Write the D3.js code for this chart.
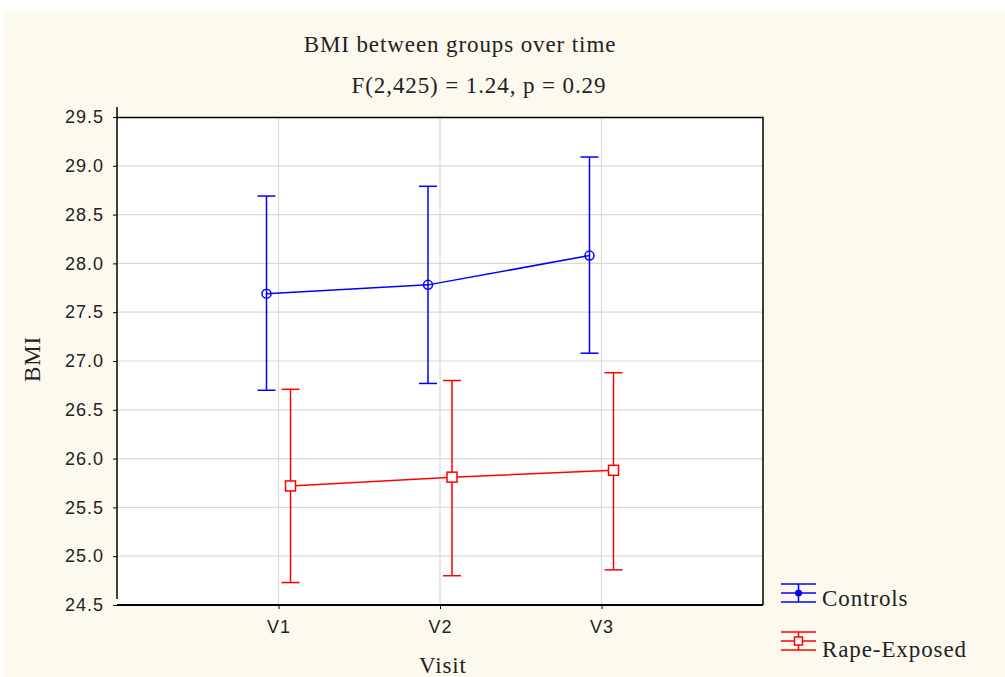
<!DOCTYPE html>
<html>
<head>
<meta charset="utf-8">
<script src="https://cdn.jsdelivr.net/npm/d3@7"></script>
<style>
  body { margin: 0; background: #ffffff; }
  svg { display: block; }
</style>
</head>
<body>
<svg id="mainsvg" width="1005" height="677"></svg>
<script>
const visits = ['V1', 'V2', 'V3'];
const groups = ['Controls', 'Rape-Exposed'];
const controlsMean = [27.69, 27.78, 28.08];
const controlsLow = [26.70, 26.77, 27.08];
const controlsHigh = [28.69, 28.79, 29.09];
const exposedMean = [25.72, 25.81, 25.88];
const exposedLow = [24.73, 24.80, 24.86];
const exposedHigh = [26.71, 26.80, 26.88];
const yTicks = [24.5, 25.0, 25.5, 26.0, 26.5, 27.0, 27.5, 28.0, 28.5, 29.0, 29.5];

const svg = d3.select('#mainsvg');
const width = +svg.attr('width');
const height = +svg.attr('height');
const margin = { top: 117, right: 242, bottom: 72, left: 117 };
const innerWidth = width - margin.left - margin.right;
const innerHeight = height - margin.top - margin.bottom;

const serif = 'Liberation Serif, Times New Roman, serif';
const sans = 'Liberation Sans, Arial, sans-serif';

// cream background
svg.append('rect')
    .attr('x', 4).attr('y', 11)
    .attr('width', width - 4).attr('height', height - 11)
    .attr('fill', '#fdf9ef');

const g = svg.append('g').attr('id', 'maingroup')
    .attr('transform', `translate(${margin.left}, ${margin.top})`);

const xScale = d3.scaleLinear().domain([0, 4]).range([0, innerWidth]);
const yScale = d3.scaleLinear().domain([24.5, 29.5]).range([innerHeight, 0]);

g.append('rect')
    .attr('width', innerWidth).attr('height', innerHeight)
    .attr('fill', '#ffffff');

// grid
g.selectAll('.hgrid').data(yTicks.slice(1, -1)).join('line')
    .attr('class', 'hgrid')
    .attr('x1', 0).attr('x2', innerWidth)
    .attr('y1', d => yScale(d)).attr('y2', d => yScale(d))
    .attr('stroke', '#d9d9d9').attr('stroke-width', 1.2);
g.selectAll('.vgrid').data([1, 2, 3]).join('line')
    .attr('class', 'vgrid')
    .attr('y1', 0).attr('y2', innerHeight)
    .attr('x1', d => xScale(d)).attr('x2', d => xScale(d))
    .attr('stroke', '#d9d9d9').attr('stroke-width', 1.2);

// border top/right
g.append('path')
    .attr('d', `M0,0.5H${innerWidth}V${innerHeight}`)
    .attr('fill', 'none').attr('stroke', '#000').attr('stroke-width', 1.5);

// y axis
const yAxis = d3.axisLeft(yScale).tickValues(yTicks).tickSize(4)
    .tickFormat(d3.format('.1f'));
const yAxisGroup = g.append('g').call(yAxis);
yAxisGroup.select('.domain').remove();
yAxisGroup.selectAll('.tick line').attr('stroke', '#000');
yAxisGroup.selectAll('.tick text')
    .attr('font-family', sans).attr('letter-spacing', '1px')
    .attr('font-size', '18px').attr('fill', '#222').attr('x', -13);
g.append('line')
    .attr('x1', 0).attr('x2', 0).attr('y1', -10).attr('y2', innerHeight - 6)
    .attr('stroke', '#000').attr('stroke-width', 1.5);

// x axis
const xAxis = d3.axisBottom(xScale).tickValues([1, 2, 3]).tickSize(4)
    .tickFormat(d => visits[d - 1]);
const xAxisGroup = g.append('g').call(xAxis)
    .attr('transform', `translate(0, ${innerHeight})`);
xAxisGroup.select('.domain').remove();
xAxisGroup.selectAll('.tick line').attr('stroke', '#000');
xAxisGroup.selectAll('.tick text')
    .attr('font-family', sans).attr('letter-spacing', '1px')
    .attr('font-size', '18px').attr('fill', '#222').attr('y', 28).attr('dy', 0);
g.append('line')
    .attr('x1', 0).attr('x2', innerWidth).attr('y1', innerHeight).attr('y2', innerHeight)
    .attr('stroke', '#000').attr('stroke-width', 1.8);

// series
const series = [
    { name: groups[0], color: '#0000ff', mean: controlsMean, low: controlsLow, high: controlsHigh, dx: -12, marker: 'circle' },
    { name: groups[1], color: '#ff0000', mean: exposedMean, low: exposedLow, high: exposedHigh, dx: 12, marker: 'square' }
];
const capW = 9;
series.forEach(s => {
    const pts = s.mean.map((m, i) => ({ x: xScale(i + 1) + s.dx, m: m, lo: s.low[i], hi: s.high[i] }));
    const line = d3.line().x(d => d.x).y(d => yScale(d.m));
    g.append('path').datum(pts)
        .attr('d', line).attr('fill', 'none')
        .attr('stroke', s.color).attr('stroke-width', 1.5);
    const eb = g.append('g');
    eb.selectAll('.bar').data(pts).join('line')
        .attr('x1', d => d.x).attr('x2', d => d.x)
        .attr('y1', d => yScale(d.lo)).attr('y2', d => yScale(d.hi))
        .attr('stroke', s.color).attr('stroke-width', 1.5);
    ['lo', 'hi'].forEach(k => {
        eb.selectAll('.cap' + k).data(pts).join('line')
            .attr('x1', d => d.x - capW).attr('x2', d => d.x + capW)
            .attr('y1', d => yScale(d[k])).attr('y2', d => yScale(d[k]))
            .attr('stroke', s.color).attr('stroke-width', 1.5);
    });
    if (s.marker === 'circle') {
        g.selectAll(null).data(pts).join('circle')
            .attr('cx', d => d.x).attr('cy', d => yScale(d.m)).attr('r', 4.5)
            .attr('fill', 'none').attr('stroke', s.color).attr('stroke-width', 1.5);
    } else {
        g.selectAll(null).data(pts).join('rect')
            .attr('x', d => d.x - 5).attr('y', d => yScale(d.m) - 5)
            .attr('width', 10).attr('height', 10)
            .attr('fill', '#fff').attr('stroke', s.color).attr('stroke-width', 1.5);
    }
});

// titles
const addText = (x, y, txt) => svg.append('text').attr('x', x).attr('y', y)
    .attr('text-anchor', 'middle')
    .attr('font-family', serif).attr('font-size', '23px').attr('letter-spacing', '0.9px')
    .attr('fill', '#222').text(txt);
addText(460, 52, 'BMI between groups over time');
addText(479, 93, 'F(2,425) = 1.24, p = 0.29');
addText(443, 673, 'Visit');
addText(0, 0, 'BMI').attr('transform', 'translate(40, 359) rotate(-90)');

// legend
const legend = svg.append('g').attr('transform', 'translate(781, 0)');
const legendY = [593, 641];
series.forEach((s, i) => {
    const lg = legend.append('g').attr('transform', `translate(0, ${legendY[i]})`);
    [-9, 0, 9].forEach(dy => {
        lg.append('line').attr('x1', 0).attr('x2', 35).attr('y1', dy).attr('y2', dy)
            .attr('stroke', s.color).attr('stroke-width', 1.5);
    });
    lg.append('line').attr('x1', 17.5).attr('x2', 17.5).attr('y1', -9).attr('y2', 9)
        .attr('stroke', s.color).attr('stroke-width', 1.5);
    if (s.marker === 'circle') {
        lg.append('circle').attr('cx', 17.5).attr('cy', 0).attr('r', 3.5).attr('fill', s.color);
    } else {
        lg.append('rect').attr('x', 13.5).attr('y', -4).attr('width', 8).attr('height', 8)
            .attr('fill', '#fff').attr('stroke', s.color).attr('stroke-width', 1.5);
    }
    lg.append('text').attr('x', 41).attr('y', 13 + i * 3)
        .attr('font-family', serif).attr('font-size', '23px').attr('letter-spacing', '0.9px')
        .attr('fill', '#222').text(s.name);
});
</script>
</body>
</html>
